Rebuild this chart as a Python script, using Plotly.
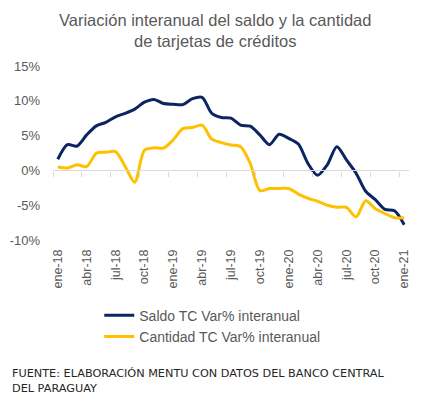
import plotly.graph_objects as go

meses = ["ene", "feb", "mar", "abr", "may", "jun", "jul", "ago", "sep", "oct", "nov", "dic"]
categorias = [f"{meses[i % 12]}-{18 + i // 12}" for i in range(37)]

saldo = [1.6, 3.7, 3.5, 5.1, 6.4, 6.9, 7.7, 8.2, 8.8, 9.8, 10.2, 9.6,
         9.5, 9.45, 10.3, 10.5, 8.2, 7.6, 7.5, 6.5, 6.35, 5.1, 3.7, 5.2,
         4.6, 3.8, 1.0, -0.7, 0.8, 3.4, 1.5, -0.4, -3.0, -4.2, -5.6, -5.8, -7.8]
cantidad = [0.5, 0.35, 0.8, 0.55, 2.45, 2.6, 2.7, 0.55, -1.7, 2.9, 3.25, 3.2,
            4.4, 6.0, 6.15, 6.5, 4.5, 4.0, 3.65, 3.4, 1.0, -2.9, -2.6, -2.6,
            -2.6, -3.4, -4.0, -4.45, -5.0, -5.3, -5.3, -6.7, -4.35, -5.5, -6.2, -6.8, -6.8]

y_ticks = [15, 10, 5, 0, -5, -10]
y_text = ["15%", "10%", "5%", "0%", "-5%", "-10%"]

nombre_saldo = "Saldo TC Var% interanual"
nombre_cantidad = "Cantidad TC Var% interanual"
titulo = "Variación interanual del saldo y la cantidad<br>de tarjetas de créditos"
fuente = "FUENTE: ELABORACIÓN MENTU CON DATOS DEL BANCO CENTRAL<br>DEL PARAGUAY"

gris = "#595959"

fig = go.Figure()
fig.add_trace(go.Scatter(x=categorias, y=saldo, name=nombre_saldo, mode="lines",
                         line=dict(color="#0d2463", width=3, shape="spline", smoothing=0.8),
                         xaxis="x", yaxis="y"))
fig.add_trace(go.Scatter(x=categorias, y=cantidad, name=nombre_cantidad, mode="lines",
                         line=dict(color="#FFC000", width=3, shape="spline", smoothing=0.8),
                         xaxis="x", yaxis="y"))
# invisible copy to anchor the zero-line axis
fig.add_trace(go.Scatter(x=categorias, y=saldo, mode="lines", line=dict(width=0),
                         opacity=0, showlegend=False, hoverinfo="skip",
                         xaxis="x2", yaxis="y"))

fig.update_layout(
    width=416, height=395,
    margin=dict(l=45, r=15, t=57.5, b=162.5, autoexpand=False),
    paper_bgcolor="white", plot_bgcolor="white",
    font=dict(family="Liberation Sans, Arial, sans-serif", color=gris),
    showlegend=True,
    legend=dict(x=0.13, xanchor="left", y=-0.343, yanchor="top",
                font=dict(size=14, color=gris), tracegroupgap=2,
                bgcolor="rgba(0,0,0,0)"),
    xaxis=dict(type="category", categoryorder="array", categoryarray=categorias,
               range=[-0.5, 36.5], dtick=3, tick0=0, tickangle=-90, automargin=False,
               showgrid=False, showline=False, ticks="", zeroline=False,
               tickfont=dict(size=12.5, color=gris), ticklabelstandoff=6),
    xaxis2=dict(type="category", categoryorder="array", categoryarray=categorias,
                range=[-0.5, 36.5], dtick=3, tick0=0, overlaying="x", automargin=False,
                anchor="free", position=0.4, side="bottom",
                showline=True, linecolor="#d9d9d9", linewidth=1.3,
                ticks="outside", ticklen=5, tickcolor="#d9d9d9", tickwidth=1.3,
                tickson="boundaries", showticklabels=False, showgrid=False, zeroline=False),
    yaxis=dict(range=[-10, 15], tickvals=y_ticks, ticktext=y_text, automargin=False,
               showgrid=False, zeroline=False, showline=False, ticks="",
               tickfont=dict(size=13, color=gris), ticklabelstandoff=12),
    annotations=[
        dict(text=titulo, xref="paper", yref="paper", x=0.455, y=1.203,
             xanchor="center", yanchor="middle", align="center", showarrow=False,
             font=dict(size=16.5, color=gris)),
        dict(text=fuente, xref="paper", yref="paper", x=-0.122, y=-0.72,
             xanchor="left", yanchor="top", align="left", showarrow=False,
             font=dict(family="DejaVu Sans", size=11.25, color="#262626")),
    ],
)

fig.write_html("out.html")
